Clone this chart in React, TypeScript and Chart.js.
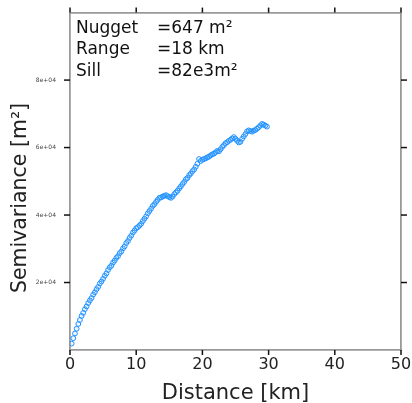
import React, { useEffect, useRef } from 'react';
import { Chart, registerables } from 'chart.js';

Chart.register(...registerables);

const distances = [
  0.25, 0.5, 0.75, 1.0, 1.25, 1.5, 1.75, 2.0, 2.25, 2.5, 2.75, 3.0, 3.25, 3.5, 3.75, 4.0,
  4.25, 4.5, 4.75, 5.0, 5.25, 5.5, 5.75, 6.0, 6.25, 6.5, 6.75, 7.0, 7.25, 7.5, 7.75, 8.0,
  8.25, 8.5, 8.75, 9.0, 9.25, 9.5, 9.75, 10.0, 10.25, 10.5, 10.75, 11.0, 11.25, 11.5, 11.75, 12.0,
  12.25, 12.5, 12.75, 13.0, 13.25, 13.5, 13.75, 14.0, 14.25, 14.5, 14.75, 15.0, 15.25, 15.5, 15.75, 16.0,
  16.25, 16.5, 16.75, 17.0, 17.25, 17.5, 17.75, 18.0, 18.25, 18.5, 18.75, 19.0, 19.25, 19.5, 19.75, 20.0,
  20.25, 20.5, 20.75, 21.0, 21.25, 21.5, 21.75, 22.0, 22.25, 22.5, 22.75, 23.0, 23.25, 23.5, 23.75, 24.0,
  24.25, 24.5, 24.75, 25.0, 25.25, 25.5, 25.75, 26.0, 26.25, 26.5, 26.75, 27.0, 27.25, 27.5, 27.75, 28.0,
  28.25, 28.5, 28.75, 29.0, 29.25, 29.5, 29.75,
];

const semivariance = [
  1900, 3500, 4900, 6300, 7700, 8900, 10100, 11000, 12100, 12900, 13900, 14700, 15400, 16400, 17100, 18000,
  18700, 19700, 20300, 21100, 22000, 22700, 23700, 24500, 25000, 25900, 26500, 27300, 27800, 28700, 29200, 30100,
  30700, 31700, 32300, 33200, 33900, 34800, 35400, 36100, 36400, 36900, 37400, 38200, 38900, 39600, 40500, 41200,
  41900, 42700, 43200, 43900, 44500, 45100, 45200, 45500, 45700, 45900, 45600, 45300, 45100, 45500, 46200, 46700,
  47200, 47900, 48500, 49200, 49800, 50600, 51000, 51800, 52300, 53000, 53500, 54300, 55200, 56600, 56000, 56400,
  56600, 56800, 57100, 57300, 57700, 58000, 58200, 58600, 59000, 58900, 59500, 60200, 60700, 61300, 61600, 62000,
  62300, 62700, 63100, 62600, 62000, 61500, 61700, 62600, 63300, 64000, 64800, 65100, 64900, 64700, 65000, 65200,
  65600, 66000, 66500, 67000, 66800, 66500, 66200,
];

const xTicks = [0, 10, 20, 30, 40, 50];
const yTicks = [20000, 40000, 60000, 80000];
const yTickLabels = ['2e+04', '4e+04', '6e+04', '8e+04'];
const xTitle = 'Distance [km]';
const yTitle = 'Semivariance [m²]';
const annotationNames = ['Nugget', 'Range', 'Sill'];
const annotationValues = ['=647 m²', '=18 km', '=82e3m²'];

const FONT = '"DejaVu Sans", "Liberation Sans", sans-serif';

export default function App() {
  const canvasRef = useRef<HTMLCanvasElement | null>(null);

  useEffect(() => {
    const canvas = canvasRef.current;
    if (!canvas) return;

    const decorPlugin = {
      id: 'decor',
      afterDraw(chart: any) {
        const ctx = chart.ctx;
        const area = chart.chartArea;
        const sx = chart.scales.x;
        const sy = chart.scales.y;
        ctx.save();

        // tick marks on all four sides
        ctx.strokeStyle = '#111';
        ctx.lineWidth = 1.5;
        ctx.setLineDash([]);
        xTicks.forEach((v) => {
          const px = sx.getPixelForValue(v);
          ctx.beginPath();
          ctx.moveTo(px, area.bottom);
          ctx.lineTo(px, area.bottom + 5);
          ctx.stroke();
          ctx.beginPath();
          ctx.moveTo(px, area.top);
          ctx.lineTo(px, area.top - 5);
          ctx.stroke();
        });
        yTicks.forEach((v) => {
          const py = sy.getPixelForValue(v);
          ctx.beginPath();
          ctx.moveTo(area.left, py);
          ctx.lineTo(area.left - 6, py);
          ctx.stroke();
          ctx.beginPath();
          ctx.moveTo(area.right, py);
          ctx.lineTo(area.right + 6, py);
          ctx.stroke();
        });

        // axis titles
        ctx.fillStyle = '#222';
        ctx.font = `21px ${FONT}`;
        ctx.textAlign = 'center';
        ctx.textBaseline = 'alphabetic';
        ctx.fillText(xTitle, (area.left + area.right) / 2, 399);
        ctx.save();
        ctx.translate(26, 198);
        ctx.rotate(-Math.PI / 2);
        ctx.font = `20.5px ${FONT}`;
        ctx.fillText(yTitle, 0, 0);
        ctx.restore();

        // fit annotation
        ctx.font = `17px ${FONT}`;
        ctx.fillStyle = '#111';
        ctx.textAlign = 'left';
        annotationNames.forEach((name, i) => {
          const y = area.top + 20 + i * 21.5;
          ctx.fillText(name, area.left + 6, y);
          ctx.fillText(annotationValues[i], area.left + 87, y);
        });
        ctx.restore();
      },
    };

    const axisLine = { display: true, color: '#999', width: 1.8 };
    const gridOpts = () => ({
      display: true,
      drawOnChartArea: false,
      drawTicks: true,
      tickLength: 5,
      tickColor: 'rgba(0,0,0,0)',
    });

    const chart = new Chart(canvas, {
      type: 'scatter',
      data: {
        datasets: [
          {
            data: distances.map((d, i) => ({ x: d, y: semivariance[i] })),
            showLine: false,
            pointRadius: 2.4,
            pointBorderWidth: 1,
            borderColor: 'rgb(30,144,255)',
            backgroundColor: 'rgba(30,144,255,0.08)',
            pointBorderColor: 'rgb(30,144,255)',
            pointBackgroundColor: 'rgba(30,144,255,0.08)',
          },
        ],
      },
      options: {
        animation: false,
        responsive: false,
        events: [],
        layout: { padding: 0 },
        plugins: { legend: { display: false }, tooltip: { enabled: false } },
        scales: {
          x: {
            type: 'linear',
            position: 'bottom',
            min: 0,
            max: 50,
            afterBuildTicks: (s: any) => {
              s.ticks = xTicks.map((v) => ({ value: v }));
            },
            afterFit: (s: any) => {
              s.height = 53;
            },
            border: axisLine,
            grid: gridOpts(),
            ticks: {
              color: '#222',
              font: { family: FONT, size: 16 },
              padding: 0,
              maxRotation: 0,
              autoSkip: false,
            },
          },
          x2: {
            type: 'linear',
            position: 'top',
            min: 0,
            max: 50,
            afterBuildTicks: (s: any) => {
              s.ticks = xTicks.map((v) => ({ value: v }));
            },
            afterFit: (s: any) => {
              s.height = 10;
            },
            border: axisLine,
            grid: gridOpts(),
            ticks: { display: false },
          },
          y: {
            type: 'linear',
            position: 'left',
            min: 0,
            max: 100000,
            afterBuildTicks: (s: any) => {
              s.ticks = yTicks.map((v) => ({ value: v }));
            },
            afterFit: (s: any) => {
              s.width = 70;
            },
            border: axisLine,
            grid: gridOpts(),
            ticks: {
              color: '#444',
              font: { family: FONT, size: 6 },
              padding: 9,
              autoSkip: false,
              callback: (v: any) => {
                const idx = yTicks.indexOf(Number(v));
                return idx >= 0 ? yTickLabels[idx] : '';
              },
            },
          },
          y2: {
            type: 'linear',
            position: 'right',
            min: 0,
            max: 100000,
            afterBuildTicks: (s: any) => {
              s.ticks = yTicks.map((v) => ({ value: v }));
            },
            afterFit: (s: any) => {
              s.width = 11;
            },
            border: axisLine,
            grid: gridOpts(),
            ticks: { display: false },
          },
        },
      },
      plugins: [decorPlugin],
    } as any);

    return () => {
      chart.destroy();
    };
  }, []);

  return (
    <div style={{ position: 'absolute', left: 0, top: 0, width: 412, height: 403, background: '#fff' }}>
      <canvas ref={canvasRef} width={412} height={403} style={{ display: 'block' }} />
    </div>
  );
}
